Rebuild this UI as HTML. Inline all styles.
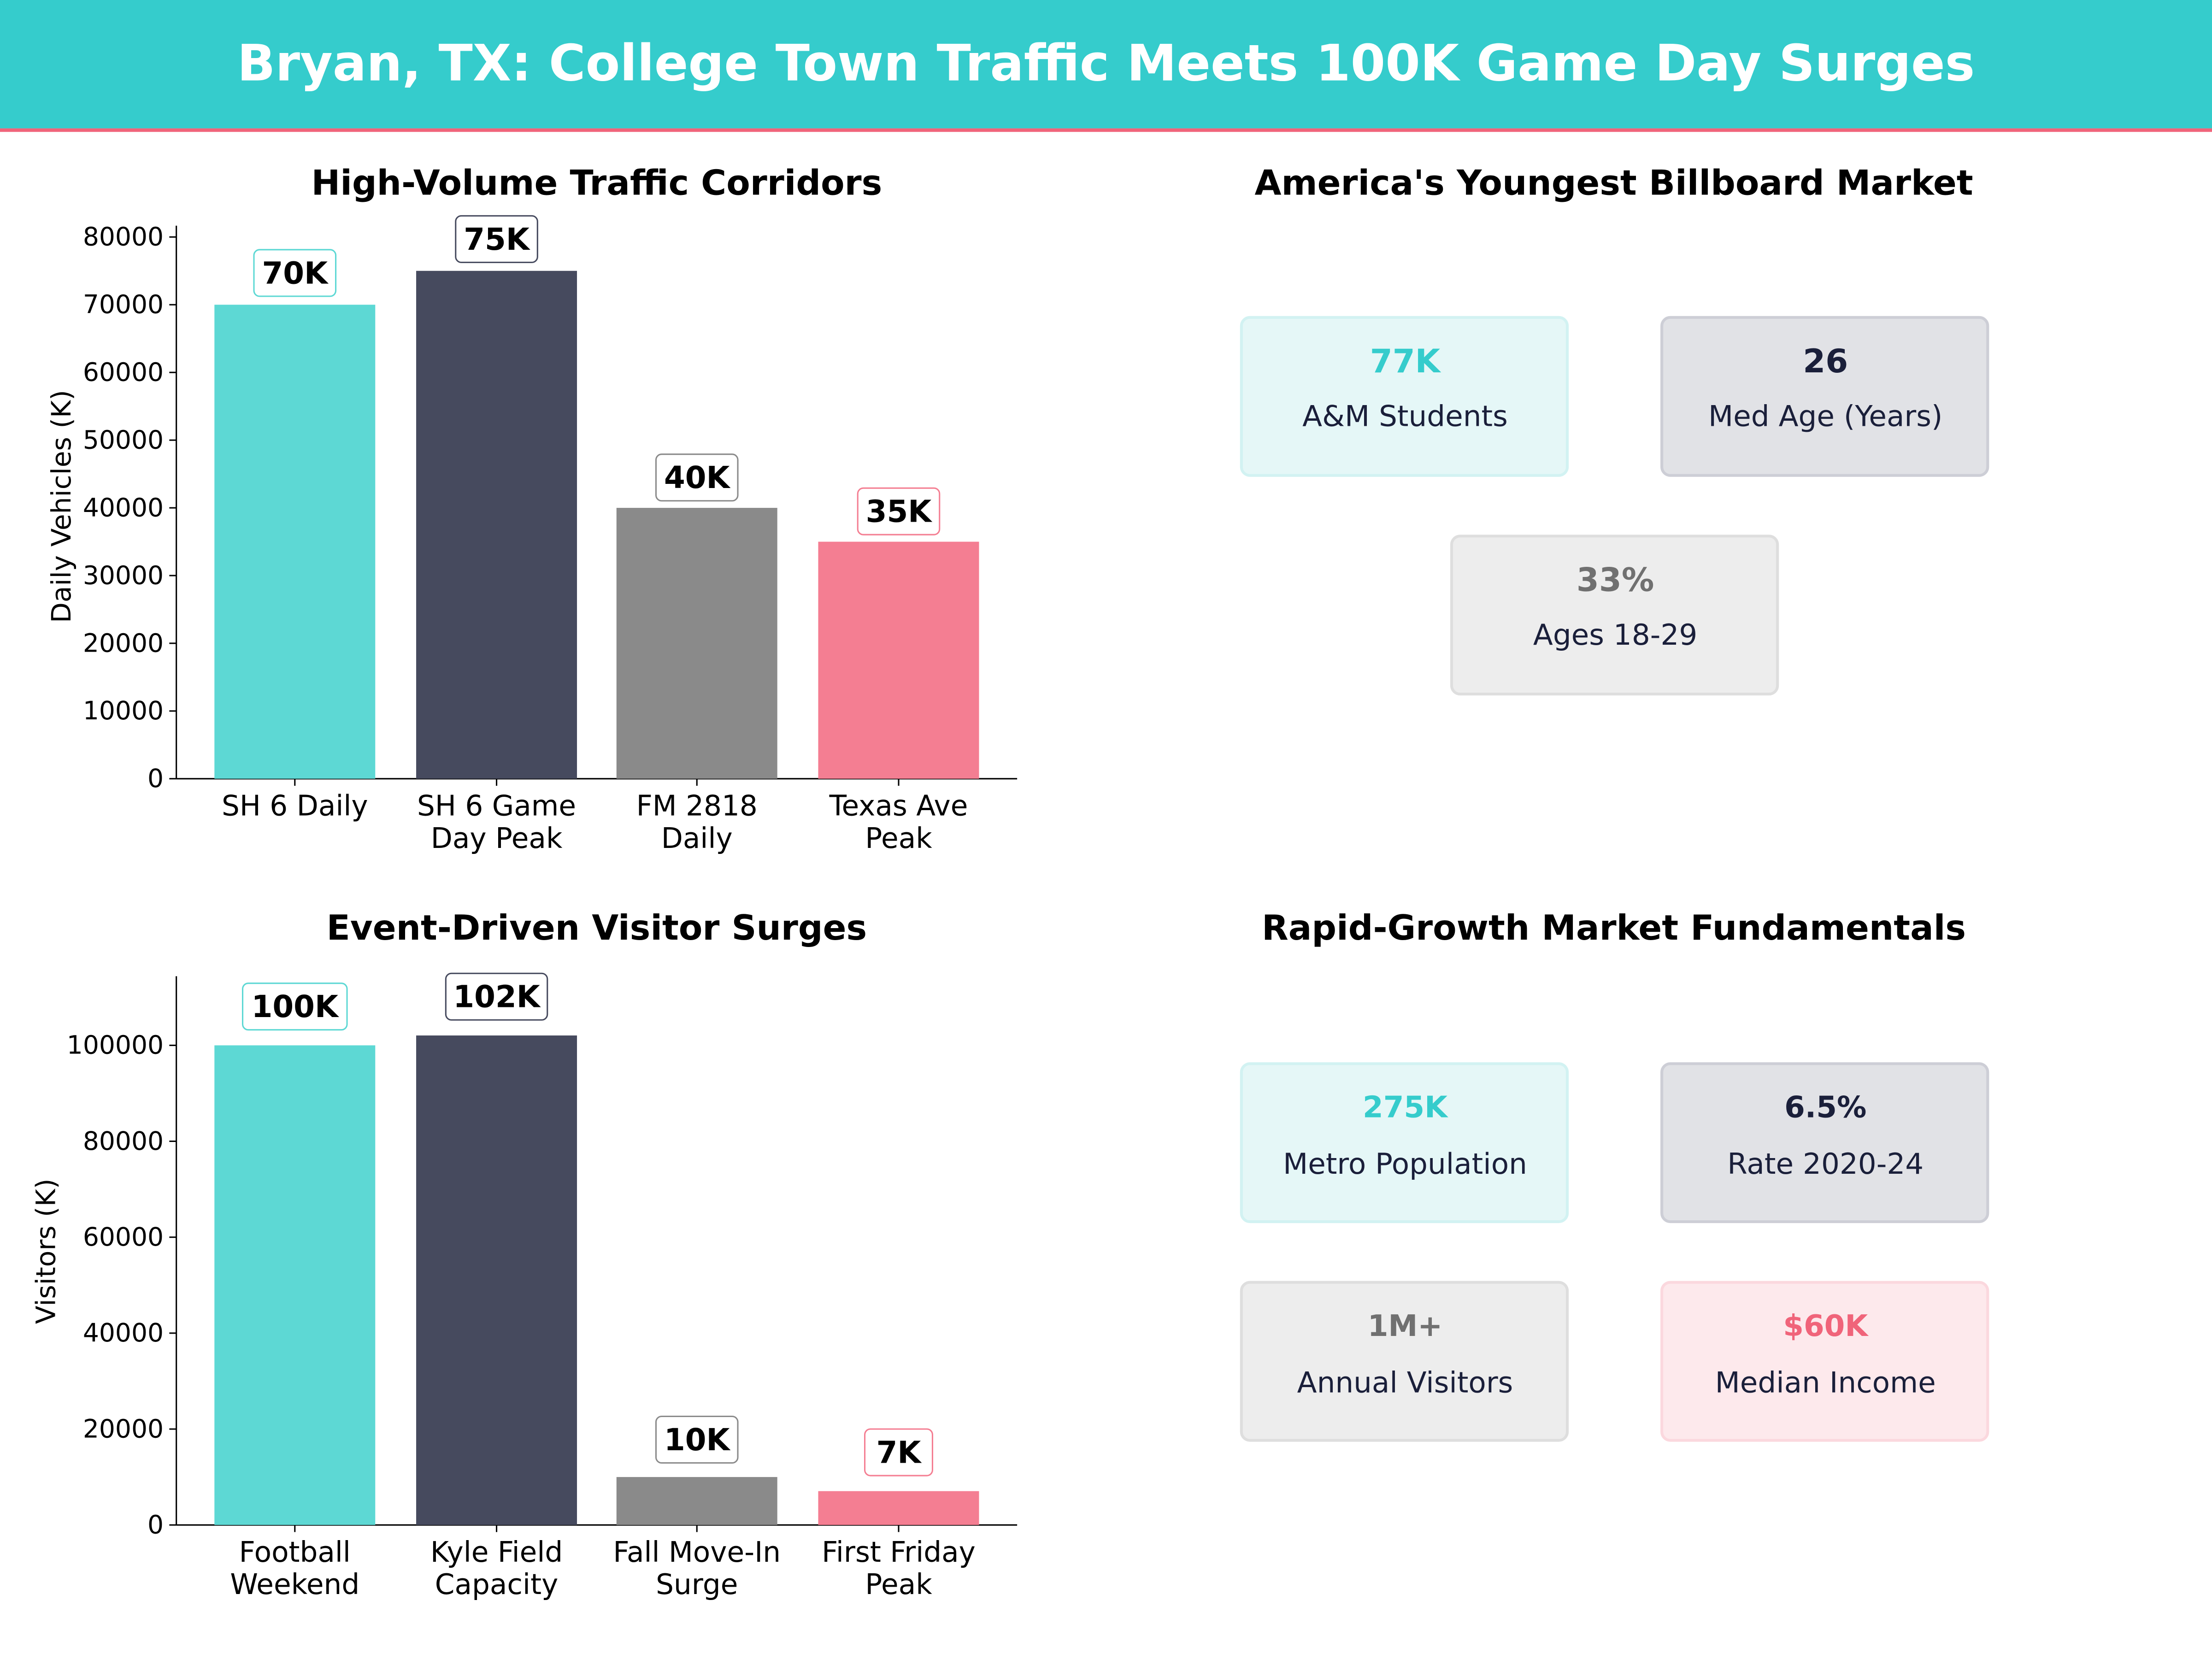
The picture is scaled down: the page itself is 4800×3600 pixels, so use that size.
<!DOCTYPE html>
<html><head><meta charset="utf-8"><style>html,body{margin:0;padding:0;background:#fff}svg{display:block}text{font-family:"DejaVu Sans","Liberation Sans",sans-serif}</style></head>
<body>
<svg xmlns="http://www.w3.org/2000/svg" width="4800" height="3600" viewBox="0 0 1568 1176">
<rect width="1568" height="1176" fill="#fff"/>
<rect x="0" y="0" width="1568" height="91" fill="#35CCCC"/>
<rect x="0" y="91" width="1568" height="2.5" fill="#F0647A"/>
<text x="784" y="57" font-size="35.5" font-weight="bold" fill="#fff" text-anchor="middle">Bryan, TX: College Town Traffic Meets 100K Game Day Surges</text>

<!-- Chart 1 -->
<text x="423" y="138" font-size="24.5" font-weight="bold" text-anchor="middle">High-Volume Traffic Corridors</text>
<g fill="none" stroke="#000" stroke-width="1">
<line x1="125" y1="160" x2="125" y2="552"/>
<line x1="125" y1="552" x2="721" y2="552"/>
</g>
<g font-size="18" text-anchor="end">
<text x="116" y="558">0</text><text x="116" y="510">10000</text><text x="116" y="462">20000</text><text x="116" y="414">30000</text><text x="116" y="366">40000</text><text x="116" y="318">50000</text><text x="116" y="270">60000</text><text x="116" y="222">70000</text><text x="116" y="174">80000</text>
</g>
<g stroke="#000"><line x1="120" y1="552" x2="125" y2="552"/><line x1="120" y1="504" x2="125" y2="504"/><line x1="120" y1="456" x2="125" y2="456"/><line x1="120" y1="408" x2="125" y2="408"/><line x1="120" y1="360" x2="125" y2="360"/><line x1="120" y1="312" x2="125" y2="312"/><line x1="120" y1="264" x2="125" y2="264"/><line x1="120" y1="216" x2="125" y2="216"/><line x1="120" y1="168" x2="125" y2="168"/>
<line x1="209" y1="552" x2="209" y2="557"/><line x1="352" y1="552" x2="352" y2="557"/><line x1="494" y1="552" x2="494" y2="557"/><line x1="637" y1="552" x2="637" y2="557"/></g>
<text transform="translate(50,359) rotate(-90)" font-size="19" text-anchor="middle">Daily Vehicles (K)</text>
<rect x="152" y="216" width="114" height="336" fill="#5DD8D4"/>
<rect x="295" y="192" width="114" height="360" fill="#464A5E"/>
<rect x="437" y="360" width="114" height="192" fill="#8A8A8A"/>
<rect x="580" y="384" width="114" height="168" fill="#F47E92"/>
<g font-size="20" text-anchor="middle"><text x="209" y="578">SH 6 Daily</text><text x="352" y="578">SH 6 Game</text><text x="352" y="601">Day Peak</text><text x="494" y="578">FM 2818</text><text x="494" y="601">Daily</text><text x="637" y="578">Texas Ave</text><text x="637" y="601">Peak</text></g>
<g font-size="21.5" font-weight="bold" text-anchor="middle" stroke-width="1">
<rect x="180" y="177" width="58" height="33" rx="4" fill="#fff" stroke="#5DD8D4"/><text x="209" y="201">70K</text>
<rect x="323" y="153" width="58" height="33" rx="4" fill="#fff" stroke="#464A5E"/><text x="352" y="177">75K</text>
<rect x="465" y="322" width="58" height="33" rx="4" fill="#fff" stroke="#8A8A8A"/><text x="494" y="346">40K</text>
<rect x="608" y="346" width="58" height="33" rx="4" fill="#fff" stroke="#F47E92"/><text x="637" y="370">35K</text>
</g>

<!-- Chart 2 -->
<text x="423" y="666" font-size="24.5" font-weight="bold" text-anchor="middle">Event-Driven Visitor Surges</text>
<g fill="none" stroke="#000"><line x1="125" y1="692" x2="125" y2="1081"/><line x1="125" y1="1081" x2="721" y2="1081"/></g>
<g font-size="18" text-anchor="end">
<text x="116" y="1087">0</text><text x="116" y="1019">20000</text><text x="116" y="951">40000</text><text x="116" y="883">60000</text><text x="116" y="815">80000</text><text x="116" y="747">100000</text>
</g>
<g stroke="#000"><line x1="120" y1="1081" x2="125" y2="1081"/><line x1="120" y1="1013" x2="125" y2="1013"/><line x1="120" y1="945" x2="125" y2="945"/><line x1="120" y1="877" x2="125" y2="877"/><line x1="120" y1="809" x2="125" y2="809"/><line x1="120" y1="741" x2="125" y2="741"/>
<line x1="209" y1="1081" x2="209" y2="1086"/><line x1="352" y1="1081" x2="352" y2="1086"/><line x1="494" y1="1081" x2="494" y2="1086"/><line x1="637" y1="1081" x2="637" y2="1086"/></g>
<text transform="translate(39,887) rotate(-90)" font-size="19" text-anchor="middle">Visitors (K)</text>
<rect x="152" y="741" width="114" height="340" fill="#5DD8D4"/>
<rect x="295" y="734" width="114" height="347" fill="#464A5E"/>
<rect x="437" y="1047" width="114" height="34" fill="#8A8A8A"/>
<rect x="580" y="1057" width="114" height="24" fill="#F47E92"/>
<g font-size="20" text-anchor="middle"><text x="209" y="1107">Football</text><text x="209" y="1130">Weekend</text><text x="352" y="1107">Kyle Field</text><text x="352" y="1130">Capacity</text><text x="494" y="1107">Fall Move-In</text><text x="494" y="1130">Surge</text><text x="637" y="1107">First Friday</text><text x="637" y="1130">Peak</text></g>
<g font-size="21.5" font-weight="bold" text-anchor="middle">
<rect x="172" y="697" width="74" height="33" rx="4" fill="#fff" stroke="#5DD8D4"/><text x="209" y="721">100K</text>
<rect x="316" y="690" width="72" height="33" rx="4" fill="#fff" stroke="#464A5E"/><text x="352" y="714">102K</text>
<rect x="465" y="1004" width="58" height="33" rx="4" fill="#fff" stroke="#8A8A8A"/><text x="494" y="1028">10K</text>
<rect x="613" y="1013" width="48" height="33" rx="4" fill="#fff" stroke="#F47E92"/><text x="637" y="1037">7K</text>
</g>

<!-- Cards -->
<g font-size="24.5" font-weight="bold" text-anchor="middle">
<text x="1144" y="138">America's Youngest Billboard Market</text>
<text x="1144" y="666">Rapid-Growth Market Fundamentals</text>
</g>
<g stroke-width="2">
<rect x="880" y="225" width="231" height="112" rx="6" fill="#E5F7F7" stroke="#D2F2F2"/>
<rect x="1178" y="225" width="231" height="112" rx="6" fill="#E1E2E6" stroke="#CDCED6"/>
<rect x="1029" y="380" width="231" height="112" rx="6" fill="#EDEDED" stroke="#DEDEDE"/>
<rect x="880" y="754" width="231" height="112" rx="6" fill="#E5F7F7" stroke="#D2F2F2"/>
<rect x="1178" y="754" width="231" height="112" rx="6" fill="#E1E2E6" stroke="#CDCED6"/>
<rect x="880" y="909" width="231" height="112" rx="6" fill="#EDEDED" stroke="#DEDEDE"/>
<rect x="1178" y="909" width="231" height="112" rx="6" fill="#FDE9EC" stroke="#FBD8DE"/>
</g>
<g font-weight="bold" text-anchor="middle">
<text x="996" y="264" font-size="23" fill="#35CCCC">77K</text>
<text x="1294" y="264" font-size="23" fill="#1A1F3A">26</text>
<text x="1145" y="419" font-size="23" fill="#707070">33%</text>
<text x="996" y="792" font-size="21" fill="#35CCCC">275K</text>
<text x="1294" y="792" font-size="21" fill="#1A1F3A">6.5%</text>
<text x="996" y="947" font-size="21" fill="#707070">1M+</text>
<text x="1294" y="947" font-size="21" fill="#F0647A">$60K</text>
</g>
<g font-size="20.5" text-anchor="middle" fill="#1A1F3A">
<text x="996" y="302">A&amp;M Students</text>
<text x="1294" y="302">Med Age (Years)</text>
<text x="1145" y="457">Ages 18-29</text>
<text x="996" y="832">Metro Population</text>
<text x="1294" y="832">Rate 2020-24</text>
<text x="996" y="987">Annual Visitors</text>
<text x="1294" y="987">Median Income</text>
</g>
</svg>
</body></html>
